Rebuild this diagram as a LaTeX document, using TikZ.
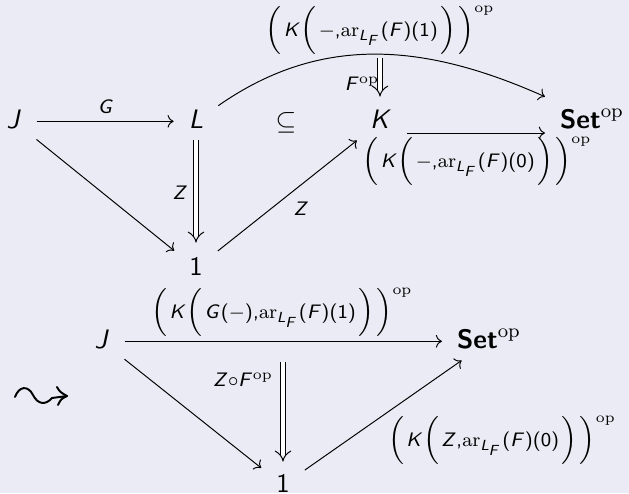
\documentclass[tikz,border=0pt]{standalone}
\usepackage{amssymb}
\usetikzlibrary{cd,arrows.meta}
\DeclareSymbolFont{operators}{OT1}{cmss}{m}{n}
\DeclareSymbolFont{letters}{OT1}{cmss}{m}{sl}
\DeclareMathAlphabet{\myrm}{OT1}{cmr}{m}{n}
\DeclareMathAlphabet{\mybf}{OT1}{cmss}{bx}{n}
\mathcode`\,="602C
\definecolor{bg}{RGB}{235,235,245}
\newcommand{\arLF}{\myrm{ar}_{L_F}}
\newcommand{\opx}{^{\myrm{op}}}
\newcommand{\BL}{\Big(\mkern2mu}
\newcommand{\BR}{\mkern2mu\Big)}
\begin{document}
\begin{tikzpicture}[x=0.41pt,y=-0.41pt,
  font=\fontsize{10.95}{13.6}\selectfont,
  obj/.style={anchor=base, inner xsep=6pt, inner ysep=2.9pt, text height=7.5pt, text depth=2pt},
  lab/.style={inner sep=0pt},
  arr/.style={-{cm to}, line width=0.4pt},
  dbl/.style={double, double distance=2pt, line width=0.4pt, -{Implies}},
  squig/.style={line width=0.8pt, line cap=round, line join=round}]
\fill[bg] (0,0) rectangle (629,493);
\useasboundingbox (0,0) rectangle (629,493);
% top diagram
\node[obj] (J1) at (14,128) {$J$};
\node[obj] (L) at (196,128) {$L$};
\node[obj] (sub) at (286,129) {$\subseteq$};
\node[obj] (K) at (381,128) {$K$};
\node[obj, text height=10.5pt] (Set1) at (592,128) {$\mybf{Set}\opx$};
\node[obj] (one1) at (196,275) {$1$};
\coordinate (fop) at (380,58);
\draw[arr] (J1) -- (L);
\draw[arr] (J1) -- (one1);
\draw[arr] (one1) -- (K);
\draw[dbl, shorten >=2.7pt] (L) -- (L |- one1.north);
\draw[arr] (L) to[out=35, in=156] (Set1);
\draw[dbl, shorten >=2.3pt] (fop) -- (fop |- K.north);
\draw[arr] ([yshift=-4.8pt]K.east) -- ([yshift=-4.8pt]K.east -| Set1.west);
\node[lab] (lG) at (106,107) {$\scriptstyle G$};
\node[lab] (lZl) at (180,193) {$\scriptstyle Z$};
\node[lab] (lZr) at (301,209) {$\scriptstyle Z$};
\node[lab] (lTop) at (380,30) {$\scriptstyle \BL K\BL -,\arLF(F)(1)\BR\BR\opx$};
\node[lab] (lFop) at (362,84) {$\scriptstyle F\opx$};
\node[lab] (lKS) at (477,161) {$\scriptstyle \BL K\BL -,\arLF(F)(0)\BR\BR\opx$};
% bottom diagram
\node[obj] (J2) at (102,348) {$J$};
\node[obj] (Set2) at (489,348) {$\mybf{Set}\opx$};
\node[obj] (one2) at (283,492) {$1$};
\coordinate (zf) at (283,362);
\draw[arr] (J2) -- (Set2);
\draw[arr] (J2) -- (one2);
\draw[arr] (one2) -- (Set2);
\draw[dbl, shorten >=1.9pt] (zf) -- (zf |- one2.north);
\node[lab] (lBT) at (282,312) {$\scriptstyle \BL K\BL G(-),\arLF(F)(1)\BR\BR\opx$};
\node[lab] (lZF) at (243,380) {$\scriptstyle Z\circ F\opx$};
\node[lab] (lBR) at (502,440) {$\scriptstyle \BL K\BL Z,\arLF(F)(0)\BR\BR\opx$};
% squiggly arrow
\draw[squig] (15,397) .. controls (19,386) and (28,385) .. (33,395)
  .. controls (38,405) and (46,405) .. (52,398) -- (67,396);
\draw[squig] (57,387) .. controls (60,392) .. (67,396) .. controls (61,399) .. (58,405);
\end{tikzpicture}
\end{document}
